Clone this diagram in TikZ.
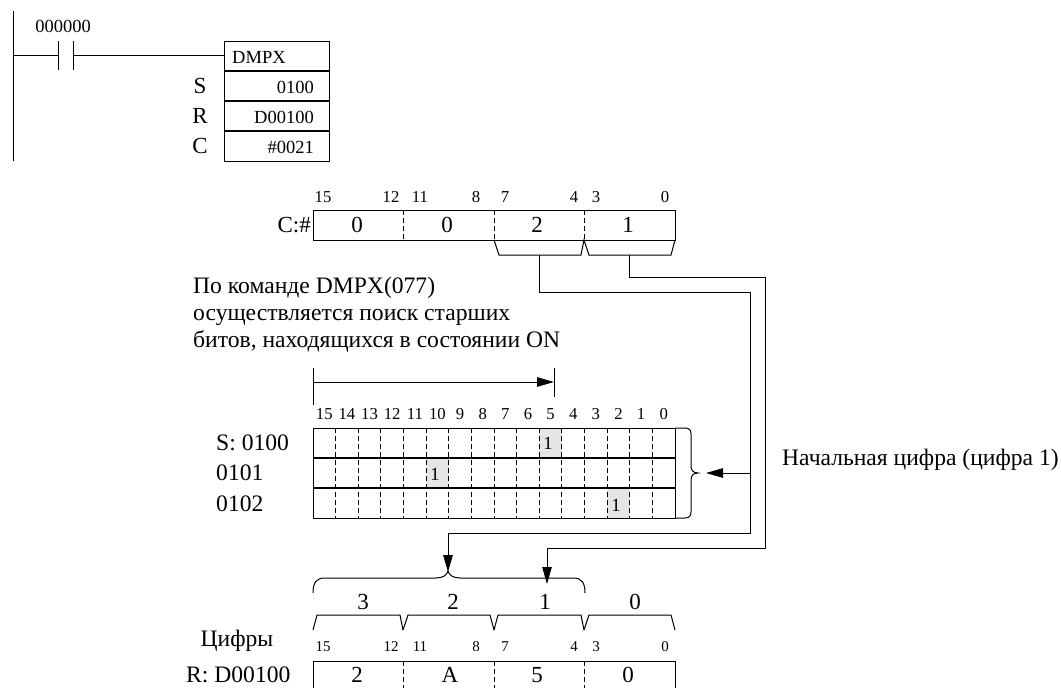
\documentclass[tikz,border=0pt]{standalone}
\usepackage{fontspec}
\setmainfont{Liberation Serif}
\usetikzlibrary{calc,arrows.meta}
\tikzset{
    wire/.style={line width=1pt},
    thickwire/.style={line width=1.5pt},
    cut/.style={line width=1pt,dash pattern=on 5pt off 3pt},
    flow/.style={wire,-{Triangle[length=17pt,width=9.5pt]}},
    tiny/.style={inner sep=0pt,font=\fontsize{15}{15}\selectfont},
    small/.style={inner sep=0pt,font=\fontsize{16.7}{17}\selectfont},
    instr/.style={inner sep=0pt,font=\fontsize{18.5}{19}\selectfont},
    body/.style={inner sep=0pt,font=\fontsize{23.6}{24}\selectfont},
    digit/.style={inner sep=0pt,font=\fontsize{23}{23}\selectfont},
}
\begin{document}
\begin{tikzpicture}[x=1pt,y=-1pt]
    \useasboundingbox (0,0) rectangle (1061,688);

    % Ladder rung
    \coordinate (railT) at (13,11);
    \coordinate (railB) at (13,161);
    \coordinate (railM) at (13,55.5);
    \coordinate (barL) at (58,55.5);
    \coordinate (barR) at (73,55.5);
    \coordinate (boxL) at (224,55.5);
    \draw[wire] (railT) -- (railB);
    \draw[wire] (railM) -- (barL);
    \draw[wire] (barR) -- (boxL);
    \draw[wire] ($(barL)+(0,-14.5)$) -- ($(barL)+(0,14.5)$);
    \draw[wire] ($(barR)+(0,-14.5)$) -- ($(barR)+(0,14.5)$);
    \node[instr] (contact) at (63,26) {000000};

    % Instruction box
    \coordinate (instrA) at (224,41);
    \coordinate (instrB) at (329.5,161);
    \draw[wire] (instrA) rectangle (instrB);
    \draw[thickwire] (224,71) -- (329.5,71);
    \draw[thickwire] (224,101) -- (329.5,101);
    \draw[thickwire] (224,131) -- (329.5,131);
    \node[instr,anchor=west] (dmpx) at (232,57) {DMPX};
    \node[instr,anchor=east] (valS) at (314,87) {0100};
    \node[instr,anchor=east] (valR) at (314,117) {D00100};
    \node[instr,anchor=east] (valC) at (314,147) {\#0021};
    \node[digit] (opS) at (200,86) {S};
    \node[digit] (opR) at (200,116) {R};
    \node[digit] (opC) at (200,146) {C};

    % Control word
    \coordinate (ctrlA) at (313,210);
    \coordinate (ctrlB) at (675,240);
    \draw[wire] (ctrlA) rectangle (ctrlB);
    \foreach \x in {403,494,584} \draw[cut] (\x,210) -- (\x,240);
    \node[digit,anchor=east] (ctrlName) at (311,225) {C:\#};
    \foreach \x/\t in {323/15,391/12,420/11,476/8,505/7,574/4,596/3,665/0}
        \node[small] (ctrlBit\t) at (\x,197) {\t};
    \foreach \x/\t [count=\i] in {357/0,447/0,537/2,628/1}
        \node[digit] (ctrlDig\i) at (\x,225) {\t};

    % Brackets below control word
    \coordinate (hookA) at (539,255);
    \coordinate (hookB) at (629,255);
    \draw[wire] (494,240) -- (499,255) -- (581,255) -- (584,240) -- (589,255) -- (671,255) -- (675,240);
    \coordinate (turnA) at (539,292);
    \coordinate (turnB) at (629,277);
    \coordinate (riseA) at (750,292);
    \coordinate (riseB) at (765,277);
    \coordinate (dropA) at (750,533);
    \coordinate (dropB) at (765,548);
    \coordinate (landA) at (448,533);
    \coordinate (landB) at (547,548);
    \coordinate (tipA) at (448,572);
    \coordinate (tipB) at (547,584);
    \draw[wire] (hookA) -- (turnA) -- (riseA) -- (dropA) -- (landA);
    \draw[wire] (hookB) -- (turnB) -- (riseB) -- (dropB) -- (landB);
    \draw[flow] (landA) -- (tipA);
    \draw[flow] (landB) -- (tipB);

    % Search text
    \node[body,anchor=base west] (noteA) at (193,293) {По команде DMPX(077)};
    \node[body,anchor=base west] (noteB) at (193,320) {осуществляется поиск старших};
    \node[body,anchor=base west] (noteC) at (193,347) {битов, находящихся в состоянии ON};

    % Search direction
    \coordinate (spanL) at (313,382);
    \coordinate (spanR) at (554,382);
    \draw[flow] (spanL) -- (spanR);
    \draw[wire] ($(spanL)+(0,-14)$) -- ($(spanL)+(0,23)$);
    \draw[wire] ($(spanR)+(0,-14)$) -- ($(spanR)+(0,15)$);

    % Source words
    \fill[gray!20] (539,428) rectangle (561.5,458);
    \fill[gray!20] (426.5,458) rectangle (449,488);
    \fill[gray!20] (607,488) rectangle (629.5,518);
    \coordinate (tableA) at (313,428);
    \coordinate (tableB) at (675,518);
    \draw[wire] (tableA) rectangle (tableB);
    \draw[thickwire] (313,458) -- (675,458);
    \draw[thickwire] (313,488) -- (675,488);
    \foreach \n [count=\i] in {14,...,0}
        \draw[cut] (313+22.63*\i,428) -- (313+22.63*\i,518);
    \foreach \n [count=\i from 0] in {15,14,...,0}
        \node[small] (srcBit\n) at (324.3+22.63*\i,414) {\n};
    \node[instr] (oneA) at (548,443) {1};
    \node[instr] (oneB) at (435,474) {1};
    \node[instr] (oneC) at (616,505) {1};
    \node[body,anchor=base west] (srcA) at (216,450) {S: 0100};
    \node[body,anchor=base west] (srcB) at (216,480) {0101};
    \node[body,anchor=base west] (srcC) at (216,511) {0102};

    % Brace and pointer
    \coordinate (braceTip) at (698,473);
    \coordinate (pointer) at (750,473);
    \draw[wire] (675,428) -- (685,428) .. controls (689,428) and (691,430) .. (691,434)
        -- (691,466) .. controls (691,470) and (693,473) .. (braceTip)
        .. controls (693,473) and (691,476) .. (691,480) -- (691,512)
        .. controls (691,516) and (689,518) .. (685,518) -- (675,518);
    \coordinate (pointerTip) at (706,473);
    \draw[flow] (pointer) -- (pointerTip);
    \node[body,anchor=base west] (startNote) at (782,465) {Начальная цифра (цифра 1)};

    % Result digits
    \coordinate (curlyTip) at (448,571);
    \draw[wire] (313,593) .. controls (313,583) and (316,578) .. (325,578) -- (436,578)
        .. controls (443,578) and (447,575) .. (curlyTip)
        .. controls (449,575) and (453,578) .. (460,578) -- (573,578)
        .. controls (582,578) and (585,583) .. (585,593);
    \foreach \x/\t in {363/3,453/2,545/1,635/0}
        \node[digit] (resNum\t) at (\x,602) {\t};
    \foreach \a/\b/\c/\d in {313/317/400/403,403/408/490/494,494/498/581/584,584/589/671/675}
        \draw[wire] (\a,630) -- (\b,615) -- (\c,615) -- (\d,630);
    \node[body,anchor=base] (digitsName) at (237,646) {Цифры};
    \foreach \x/\t in {323/15,391/12,420/11,476/8,505/7,574/4,596/3,665/0}
        \node[tiny] (resBit\t) at (\x,647) {\t};

    % Result word
    \node[body,anchor=base west] (resName) at (186,682) {R: D00100};
    \draw[wire] (313,688) -- (313,661) -- (675,661) -- (675,688);
    \foreach \x in {403,494,584} \draw[cut] (\x,661) -- (\x,688);
    \foreach \x/\t [count=\i] in {357/2,450/A,537/5,628/0}
        \node[digit] (resDig\i) at (\x,675) {\t};
\end{tikzpicture}
\end{document}
